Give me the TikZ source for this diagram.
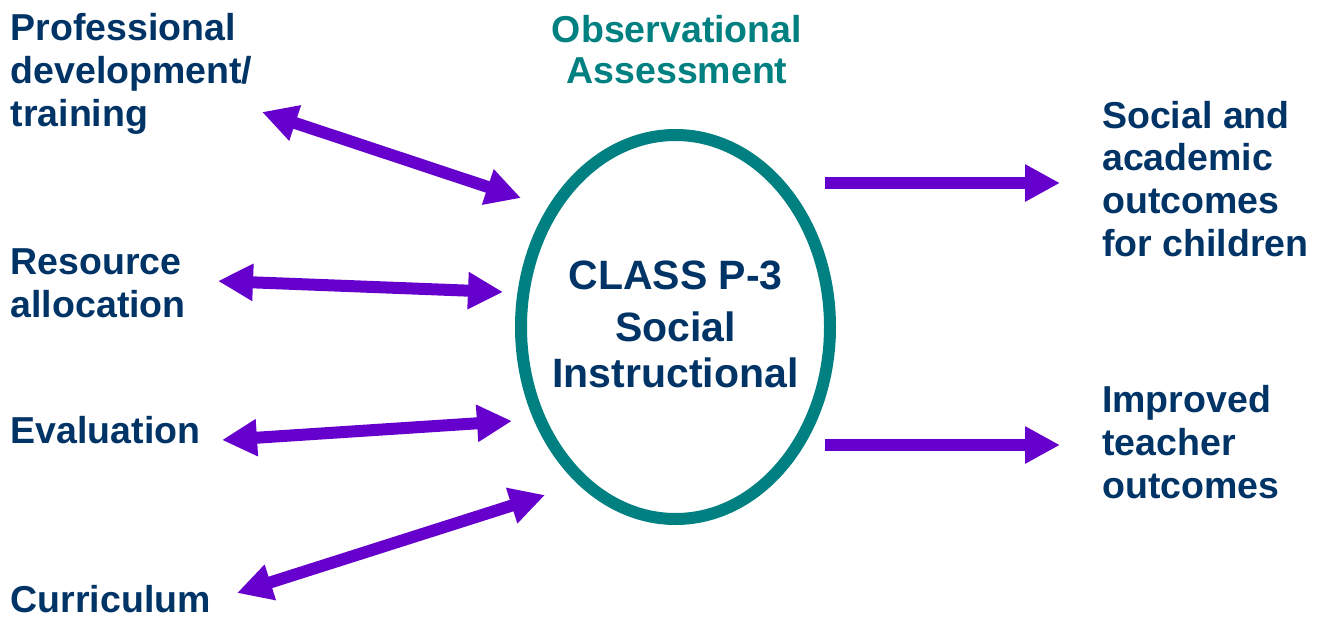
\documentclass[tikz,border=0pt]{standalone}
\usepackage{fontspec}
\setmainfont{Liberation Sans}
\usetikzlibrary{arrows.meta,shapes.geometric}
\definecolor{navy}{HTML}{003366}
\definecolor{tealc}{HTML}{008080}
\definecolor{purp}{HTML}{6600CC}
\tikzset{
  sidetext/.style={anchor=base west, inner sep=0pt, align=left, text=navy,
    font=\fontsize{37.5}{42.8}\selectfont\bfseries},
  titletext/.style={anchor=base, inner sep=0pt, align=center, text=tealc,
    font=\fontsize{37.5}{40.5}\selectfont\bfseries},
  centertext/.style={anchor=base, inner sep=0pt, align=center, text=navy,
    font=\fontsize{41}{46}\selectfont\bfseries},
  ringshape/.style={draw=tealc, line width=12pt, ellipse, inner sep=0pt,
    minimum width=309pt, minimum height=384pt},
  dblarrow/.style={draw=purp, line width=12pt,
    arrows={Triangle[length=35pt,width=35pt]-Triangle[length=35pt,width=35pt]}},
  onearrow/.style={draw=purp, line width=12pt,
    arrows={-Triangle[length=35pt,width=35pt]}},
}
\begin{document}
\begin{tikzpicture}[x=1pt,y=-1pt]
\useasboundingbox[fill=white] (0,0) rectangle (1320,616);
% labels (anchored on the baseline of their last line)
\node[sidetext] (prof) at (10.5,126) {Professional\\development/\\training};
\node[sidetext] (res) at (10.5,317) {Resource\\allocation};
\node[sidetext] (eval) at (10.5,443) {Evaluation};
\node[sidetext] (curr) at (10.5,612) {Curriculum};
\node[sidetext] (soc) at (1102,256.5) {Social and\\academic\\outcomes\\for children};
\node[sidetext] (imp) at (1102,498.5) {Improved\\teacher\\outcomes};
\node[titletext] (obs) at (677,83) {Observational\\Assessment};
% central ellipse
\node[ringshape] (class) at (675.5,327) {};
\node[centertext] (classtext) at (675.5,387) {CLASS P-3\\[5.5pt]Social\\Instructional};
% arrow end points
\coordinate (p1) at (262,112); \coordinate (q1) at (521,198);
\coordinate (p2) at (218,281); \coordinate (q2) at (503,292);
\coordinate (p3) at (222,440); \coordinate (q3) at (512,421);
\coordinate (p4) at (237,593); \coordinate (q4) at (545,495);
\coordinate (r1) at (825,183); \coordinate (s1) at (1060,183);
\coordinate (r2) at (825,445); \coordinate (s2) at (1060,445);
% connectors
\draw[dblarrow] (p1) -- (q1);
\draw[dblarrow] (p2) -- (q2);
\draw[dblarrow] (p3) -- (q3);
\draw[dblarrow] (p4) -- (q4);
\draw[onearrow] (r1) -- (s1);
\draw[onearrow] (r2) -- (s2);
\end{tikzpicture}
\end{document}
